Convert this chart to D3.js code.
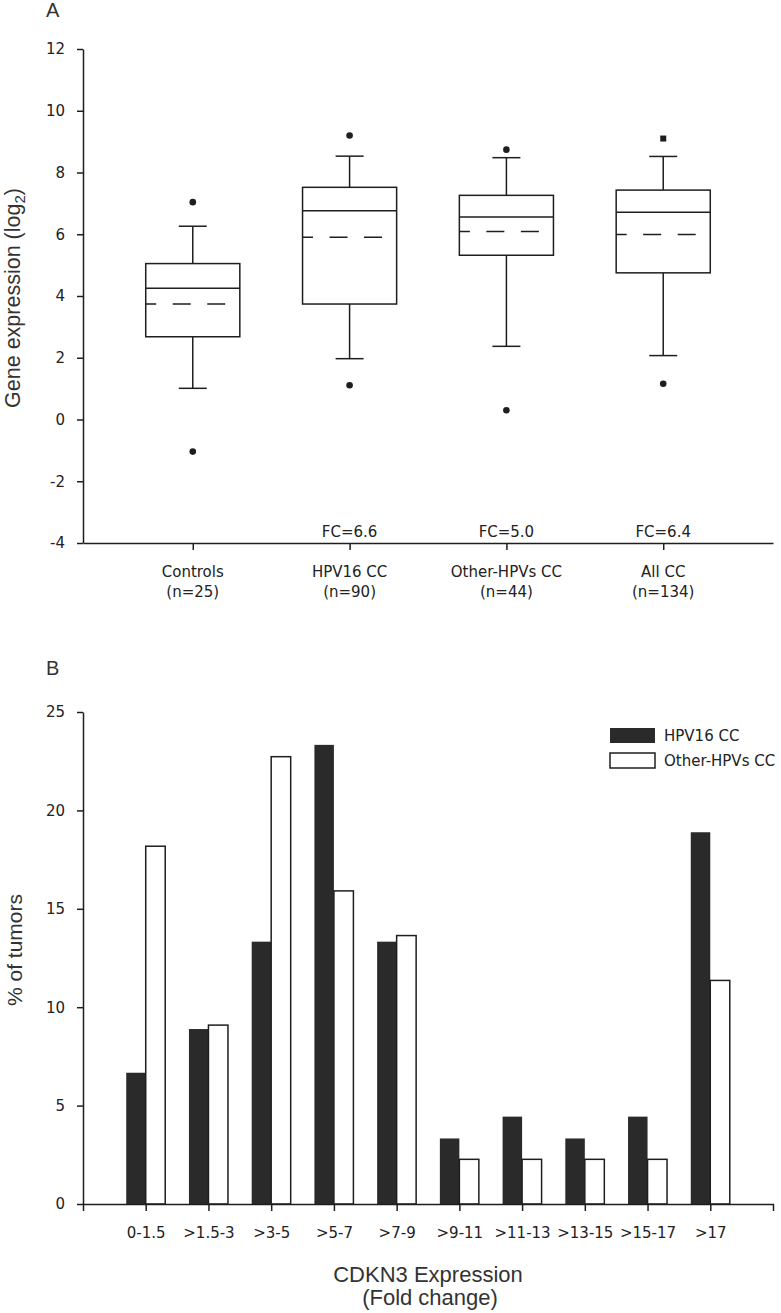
<!DOCTYPE html>
<html><head><meta charset="utf-8">
<script src="https://cdn.jsdelivr.net/npm/d3@7"></script>
<style>
html,body{margin:0;padding:0;background:#fff;}
svg{display:block;}
.tick text{font-family:"DejaVu Sans",sans-serif;font-size:15px;fill:#222;}
</style></head>
<body>
<svg id="chart" width="781" height="1313"></svg>
<script>
// ---- Panel A data (box plot, log2 gene expression) ----
const boxCategories = ["Controls", "HPV16 CC", "Other-HPVs CC", "All CC"];
const boxN = ["(n=25)", "(n=90)", "(n=44)", "(n=134)"];
const boxFC = ["", "FC=6.6", "FC=5.0", "FC=6.4"];
const whiskerLow = [1.01, 1.97, 2.37, 2.07];
const q1 = [2.68, 3.74, 5.32, 4.75];
const median = [4.25, 6.76, 6.56, 6.71];
const mean = [3.74, 5.90, 6.09, 5.99];
const q3 = [5.05, 7.52, 7.26, 7.43];
const whiskerHigh = [6.26, 8.53, 8.48, 8.52];
const outlierHigh = [7.04, 9.20, 8.74, 9.10];
const outlierLow = [-1.04, 1.11, 0.30, 1.16];
const yTicksA = [-4, -2, 0, 2, 4, 6, 8, 10, 12];

// ---- Panel B data (% of tumors per fold-change bin) ----
const fcBins = ["0-1.5", ">1.5-3", ">3-5", ">5-7", ">7-9", ">9-11", ">11-13", ">13-15", ">15-17", ">17"];
const hpv16Pct = [6.67, 8.89, 13.33, 23.33, 13.33, 3.33, 4.44, 3.33, 4.44, 18.89];
const otherPct = [18.18, 9.09, 22.73, 15.91, 13.64, 2.27, 2.27, 2.27, 2.27, 11.36];
const seriesNames = ["HPV16 CC", "Other-HPVs CC"];
const yTicksB = [0, 5, 10, 15, 20, 25];

const svg = d3.select("#chart");
const INK = "#1e1e1e";
const SW = 1.5;
const plainFmt = d => String(d);

function styleAxis(g) {
  g.selectAll("path.domain").attr("stroke", INK).attr("stroke-width", SW);
  g.selectAll(".tick line").attr("stroke", INK).attr("stroke-width", SW);
}

// ================= Panel A =================
const xA = d3.scalePoint().domain(boxCategories).range([83, 773]).padding(0.7);
const yA = d3.scaleLinear().domain([-4, 12]).range([543, 49]);
const boxW = xA.step() * 0.6;
const capW = 28;

svg.append("text").attr("x", 46).attr("y", 17)
  .attr("font-family", "Liberation Sans, Arial, sans-serif").attr("font-size", 20).attr("fill", "#333").text("A");

const gyA = svg.append("g").attr("transform", "translate(83,0)")
  .call(d3.axisLeft(yA).tickValues(yTicksA).tickFormat(plainFmt).tickSize(6).tickSizeOuter(0).tickPadding(12));
styleAxis(gyA);

const gxA = svg.append("g").attr("transform", "translate(0,543)")
  .call(d3.axisBottom(xA).tickSize(7).tickSizeOuter(0).tickFormat(""));
styleAxis(gxA);

// category labels (two lines)
const labA = svg.append("g").attr("font-family", "DejaVu Sans, sans-serif").attr("font-size", 15)
  .attr("fill", "#222").attr("text-anchor", "middle");
boxCategories.forEach((c, i) => {
  labA.append("text").attr("x", xA(c)).attr("y", 577).text(c);
  labA.append("text").attr("x", xA(c)).attr("y", 597).text(boxN[i]);
  if (boxFC[i]) labA.append("text").attr("x", xA(c)).attr("y", 537).text(boxFC[i]);
});

svg.append("text")
  .attr("transform", `translate(20,${(yA(-4)+yA(12))/2 + 2}) rotate(-90)`)
  .attr("text-anchor", "middle")
  .attr("font-family", "Liberation Sans, Arial, sans-serif").attr("font-size", 21.5).attr("fill", "#333")
  .html('Gene expression (log<tspan font-size="15" dy="5">2</tspan><tspan dy="-5">)</tspan>');

const boxes = svg.append("g").attr("stroke", INK).attr("stroke-width", SW).attr("fill", "none");
boxCategories.forEach((c, i) => {
  const cx = xA(c);
  // whiskers
  boxes.append("line").attr("x1", cx).attr("x2", cx).attr("y1", yA(q3[i])).attr("y2", yA(whiskerHigh[i]));
  boxes.append("line").attr("x1", cx).attr("x2", cx).attr("y1", yA(q1[i])).attr("y2", yA(whiskerLow[i]));
  boxes.append("line").attr("x1", cx - capW/2).attr("x2", cx + capW/2).attr("y1", yA(whiskerHigh[i])).attr("y2", yA(whiskerHigh[i]));
  boxes.append("line").attr("x1", cx - capW/2).attr("x2", cx + capW/2).attr("y1", yA(whiskerLow[i])).attr("y2", yA(whiskerLow[i]));
  // box
  boxes.append("rect").attr("x", cx - boxW/2).attr("width", boxW)
    .attr("y", yA(q3[i])).attr("height", yA(q1[i]) - yA(q3[i])).attr("fill", "#fff");
  boxes.append("line").attr("x1", cx - boxW/2).attr("x2", cx + boxW/2).attr("y1", yA(median[i])).attr("y2", yA(median[i]));
  boxes.append("line").attr("x1", cx - boxW/2).attr("x2", cx + boxW/2).attr("y1", yA(mean[i])).attr("y2", yA(mean[i]))
    .attr("stroke-dasharray", "18,16.5").attr("stroke-dashoffset", 7.5);
  // outliers
  [outlierHigh[i], outlierLow[i]].forEach((v, k) => {
    if (i === 3 && k === 0) {
      svg.append("rect").attr("x", cx - 3).attr("y", yA(v) - 3).attr("width", 6).attr("height", 6).attr("fill", INK);
    } else {
      svg.append("circle").attr("cx", cx).attr("cy", yA(v)).attr("r", 3.3).attr("fill", INK);
    }
  });
});

// ================= Panel B =================
const xB = d3.scalePoint().domain(fcBins).range([83, 773]).padding(1);
const yB = d3.scaleLinear().domain([0, 25]).range([1204, 712]);
const barW = 19.5;

svg.append("text").attr("x", 46).attr("y", 675)
  .attr("font-family", "Liberation Sans, Arial, sans-serif").attr("font-size", 20).attr("fill", "#333").text("B");

const barsG = svg.append("g");
barsG.selectAll("rect.h16").data(fcBins).join("rect").attr("class", "h16")
  .attr("x", d => xB(d) - barW).attr("width", barW)
  .attr("y", (d, i) => yB(hpv16Pct[i])).attr("height", (d, i) => yB(0) - yB(hpv16Pct[i]))
  .attr("fill", "#2a2a2a");
barsG.selectAll("rect.oth").data(fcBins).join("rect").attr("class", "oth")
  .attr("x", d => xB(d)).attr("width", barW)
  .attr("y", (d, i) => yB(otherPct[i])).attr("height", (d, i) => yB(0) - yB(otherPct[i]))
  .attr("fill", "#fff").attr("stroke", INK).attr("stroke-width", SW);

const gyB = svg.append("g").attr("transform", "translate(83,0)")
  .call(d3.axisLeft(yB).tickValues(yTicksB).tickFormat(plainFmt).tickSize(6).tickSizeOuter(0).tickPadding(12));
styleAxis(gyB);

const gxB = svg.append("g").attr("transform", "translate(0,1204)")
  .call(d3.axisBottom(xB).tickSize(7).tickSizeOuter(7).tickPadding(16));
styleAxis(gxB);

svg.append("text")
  .attr("transform", `translate(22,${(yB(0)+yB(25))/2 - 8}) rotate(-90)`)
  .attr("text-anchor", "middle")
  .attr("font-family", "Liberation Sans, Arial, sans-serif").attr("font-size", 21).attr("fill", "#333")
  .text("% of tumors");

const xt = svg.append("g").attr("text-anchor", "middle")
  .attr("font-family", "Liberation Sans, Arial, sans-serif").attr("font-size", 22).attr("fill", "#333");
xt.append("text").attr("x", 428).attr("y", 1282).text("CDKN3 Expression");
xt.append("text").attr("x", 430).attr("y", 1305).text("(Fold change)");

// legend
const leg = svg.append("g");
seriesNames.forEach((s, i) => {
  const y = 728 + i * 25;
  leg.append("rect").attr("x", 610).attr("y", y).attr("width", 45).attr("height", 15)
    .attr("fill", i === 0 ? "#2a2a2a" : "#fff").attr("stroke", INK).attr("stroke-width", i === 0 ? 0 : SW);
  leg.append("text").attr("x", 664).attr("y", y + 13)
    .attr("font-family", "DejaVu Sans, sans-serif").attr("font-size", 15).attr("fill", "#222").text(s);
});
</script>
</body></html>
